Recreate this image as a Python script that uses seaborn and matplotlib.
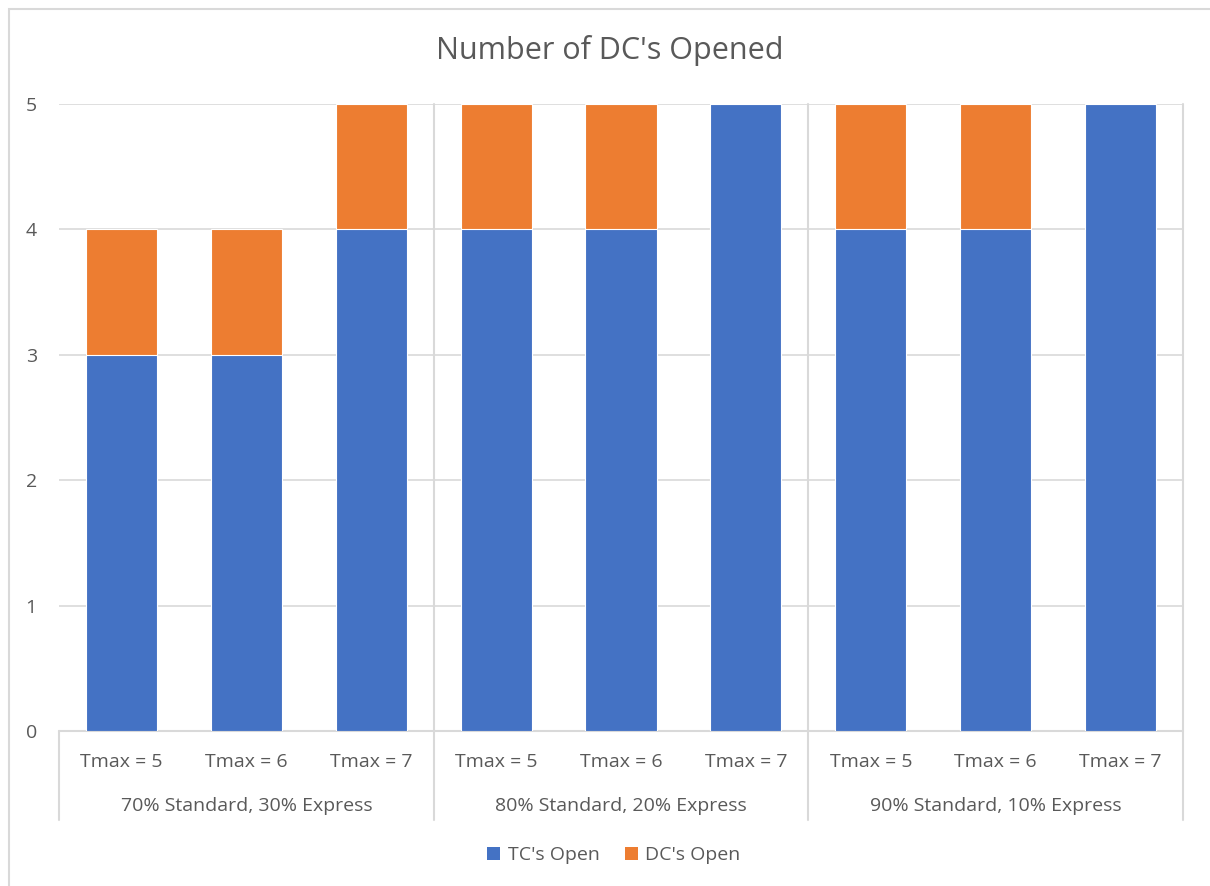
import matplotlib
matplotlib.use("Agg")
import matplotlib.pyplot as plt
from matplotlib.patches import Rectangle, Patch
import seaborn as sns
import pandas as pd

# ---- data ----
tmax_labels = ["Tmax = 5", "Tmax = 6", "Tmax = 7"] * 3
group_labels = ["70% Standard, 30% Express", "80% Standard, 20% Express", "90% Standard, 10% Express"]
tc_open = [3, 3, 4, 4, 4, 5, 4, 4, 5]
dc_open = [1, 1, 1, 1, 1, 0, 1, 1, 0]
series_names = ["TC's Open", "DC's Open"]

BLUE = "#4472C4"
ORANGE = "#ED7D31"
TXT = "#595959"
GRID = "#D9D9D9"

sns.set_theme(style="white")
plt.rcParams["font.family"] = ["Open Sans", "DejaVu Sans"]

W, H = 1210, 886
fig = plt.figure(figsize=(W / 100, H / 100), dpi=100)
L, R, B, T = 59, 1183, 731, 104
ax = fig.add_axes([L / W, 1 - B / H, (R - L) / W, (B - T) / H])

cats = [f"c{i}" for i in range(len(tc_open))]
totals = [a + b for a, b in zip(tc_open, dc_open)]
df_tot = pd.DataFrame({"cat": cats, "val": totals})
df_tc = pd.DataFrame({"cat": cats, "val": tc_open})

sns.barplot(data=df_tot, x="cat", y="val", color=ORANGE, saturation=1, width=0.57,
            edgecolor="white", linewidth=0.8, ax=ax, zorder=3)
sns.barplot(data=df_tc, x="cat", y="val", color=BLUE, saturation=1, width=0.57,
            edgecolor="white", linewidth=0.8, ax=ax, zorder=4)

n = len(cats)
ax.set_xlim(-0.5, n - 0.5)
ax.set_ylim(0, 5)
ax.set_yticks(range(0, 6))
ax.yaxis.grid(True, color=GRID, linewidth=1.2, zorder=0)
ax.set_axisbelow(True)
for s in ax.spines.values():
    s.set_visible(False)
ax.set_xlabel("")
ax.set_ylabel("")
ax.tick_params(axis="y", length=0, pad=16, labelsize=14, labelcolor=TXT)
ax.set_xticks(range(n))
ax.set_xticklabels(tmax_labels)
ax.tick_params(axis="x", length=0, pad=16, labelsize=14, labelcolor=TXT)

# x axis baseline
ax.axhline(0, color=GRID, linewidth=1.5, zorder=1, clip_on=False)

# group separators
h_px = B - T
bot = -(820 - B) / h_px
trans = ax.get_xaxis_transform()
for xb in [-0.5, 2.5, 5.5, 8.5]:
    top = 0.0 if xb == -0.5 else 1.0
    ax.plot([xb, xb], [bot, top], color=GRID, linewidth=1.5, transform=trans,
            clip_on=False, zorder=1)
for gi, gl in enumerate(group_labels):
    ax.text(gi * 3 + 1, -(806 - B) / h_px, gl, transform=trans, ha="center",
            va="center", fontsize=14, color=TXT)

# title
fig.text(610 / W, 1 - 50 / H, "Number of DC's Opened", ha="center", va="center",
         fontsize=22, color=TXT)

# legend
handles = [Patch(facecolor=BLUE, edgecolor="none"), Patch(facecolor=ORANGE, edgecolor="none")]
fig.legend(handles, series_names, loc="center", bbox_to_anchor=(614 / W, 1 - 855 / H),
           ncol=2, frameon=False, fontsize=14, labelcolor=TXT, handlelength=0.65,
           handleheight=0.65, handletextpad=0.4, columnspacing=1.3)

# chart border
fig.patches.append(Rectangle((9 / W, -0.05), 1.2, 1 - 9 / H + 0.05, transform=fig.transFigure,
                             fill=False, edgecolor=GRID, linewidth=1.5))

fig.savefig("out.png", dpi=100, facecolor="white")
